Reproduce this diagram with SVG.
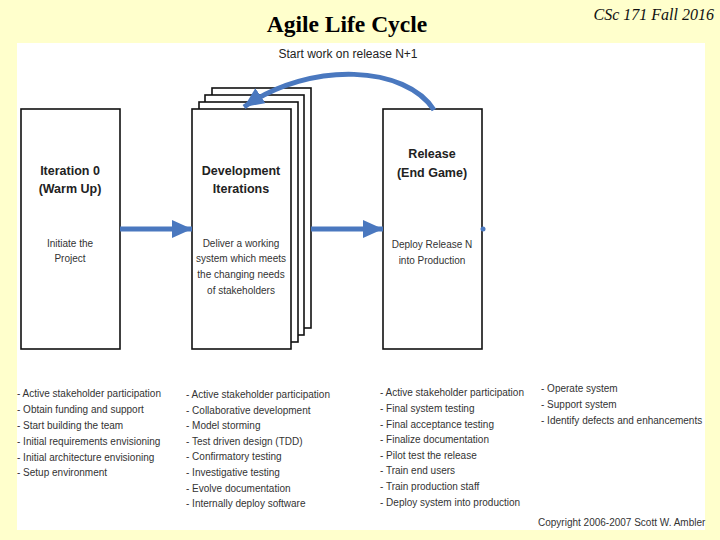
<svg xmlns="http://www.w3.org/2000/svg" width="720" height="540" viewBox="0 0 720 540">
<defs>
<style>
.box{fill:#fff;stroke:#111;stroke-width:1.6}
.ttl{font-family:"Liberation Sans",Arial,sans-serif;font-weight:bold;font-size:12.5px;fill:#222;text-anchor:middle}
.sub{font-family:"Liberation Sans",Arial,sans-serif;font-size:10px;fill:#333;text-anchor:middle}
.lst{font-family:"Liberation Sans",Arial,sans-serif;font-size:10px;fill:#333}
.arr{fill:none;stroke:#4a78bf;stroke-width:5}
</style>
<marker id="ah" markerUnits="userSpaceOnUse" markerWidth="22" markerHeight="20" refX="20" refY="9" orient="auto">
<path d="M0,0 L20,9 L0,18 Z" fill="#4a78bf"/>
</marker>
</defs>
<rect x="0" y="0" width="720" height="540" fill="#ffffcc"/>
<rect x="17" y="43" width="688" height="487" fill="#ffffff"/>
<text x="347" y="32" font-family="'Liberation Serif','Times New Roman',serif" font-size="23.5" font-weight="bold" text-anchor="middle" fill="#000">Agile Life Cycle</text>
<text x="714" y="20" font-family="'Liberation Serif','Times New Roman',serif" font-size="16" font-style="italic" text-anchor="end" fill="#111">CSc 171 Fall 2016</text>
<text x="348" y="58" font-family="'Liberation Sans',Arial,sans-serif" font-size="12" text-anchor="middle" fill="#222">Start work on release N+1</text>

<g id="iteration0">
<rect class="box" x="21" y="109" width="99" height="240"/>
<text class="ttl" x="70" y="175">Iteration 0</text>
<text class="ttl" x="70" y="193">(Warm Up)</text>
<text class="sub" x="70" y="247">Initiate the</text>
<text class="sub" x="70" y="262">Project</text>
</g>

<g id="development">
<rect class="box" x="212" y="88" width="99" height="240"/>
<rect class="box" x="205" y="95" width="99" height="240"/>
<rect class="box" x="199" y="102" width="99" height="240"/>
<rect class="box" x="192" y="109" width="99" height="240"/>
<text class="ttl" x="241" y="175">Development</text>
<text class="ttl" x="241" y="193">Iterations</text>
<text class="sub" x="241" y="247">Deliver a working</text>
<text class="sub" x="241" y="262">system which meets</text>
<text class="sub" x="241" y="278">the changing needs</text>
<text class="sub" x="241" y="294">of stakeholders</text>
</g>

<g id="release">
<rect class="box" x="383" y="109" width="99" height="240"/>
<text class="ttl" x="432" y="158">Release</text>
<text class="ttl" x="432" y="177">(End Game)</text>
<text class="sub" x="432" y="248">Deploy Release N</text>
<text class="sub" x="432" y="264">into Production</text>
</g>

<g id="connectors">
<path class="arr" d="M120,229 L192,229" marker-end="url(#ah)"/>
<path class="arr" d="M311,229 L383,229" marker-end="url(#ah)"/>
<path class="arr" d="M434,110 C406,66 312,60 244,107" marker-end="url(#ah)"/>
<circle cx="483" cy="229" r="2.5" fill="#4a78bf"/>
</g>

<g id="lists">
<text class="lst" x="17" y="397">- Active stakeholder participation</text>
<text class="lst" x="17" y="413">- Obtain funding and support</text>
<text class="lst" x="17" y="429">- Start building the team</text>
<text class="lst" x="17" y="445">- Initial requirements envisioning</text>
<text class="lst" x="17" y="461">- Initial architecture envisioning</text>
<text class="lst" x="17" y="476">- Setup environment</text>

<text class="lst" x="186" y="398">- Active stakeholder participation</text>
<text class="lst" x="186" y="414">- Collaborative development</text>
<text class="lst" x="186" y="429">- Model storming</text>
<text class="lst" x="186" y="445">- Test driven design (TDD)</text>
<text class="lst" x="186" y="460">- Confirmatory testing</text>
<text class="lst" x="186" y="476">- Investigative testing</text>
<text class="lst" x="186" y="492">- Evolve documentation</text>
<text class="lst" x="186" y="507">- Internally deploy software</text>

<text class="lst" x="380" y="396">- Active stakeholder participation</text>
<text class="lst" x="380" y="412">- Final system testing</text>
<text class="lst" x="380" y="428">- Final acceptance testing</text>
<text class="lst" x="380" y="443">- Finalize documentation</text>
<text class="lst" x="380" y="459">- Pilot test the release</text>
<text class="lst" x="380" y="474">- Train end users</text>
<text class="lst" x="380" y="490">- Train production staff</text>
<text class="lst" x="380" y="506">- Deploy system into production</text>

<text class="lst" x="541" y="392">- Operate system</text>
<text class="lst" x="541" y="408">- Support system</text>
<text class="lst" x="541" y="424">- Identify defects and enhancements</text>

<text class="lst" x="538" y="526">Copyright 2006-2007 Scott W. Ambler</text>
</g>
</svg>
